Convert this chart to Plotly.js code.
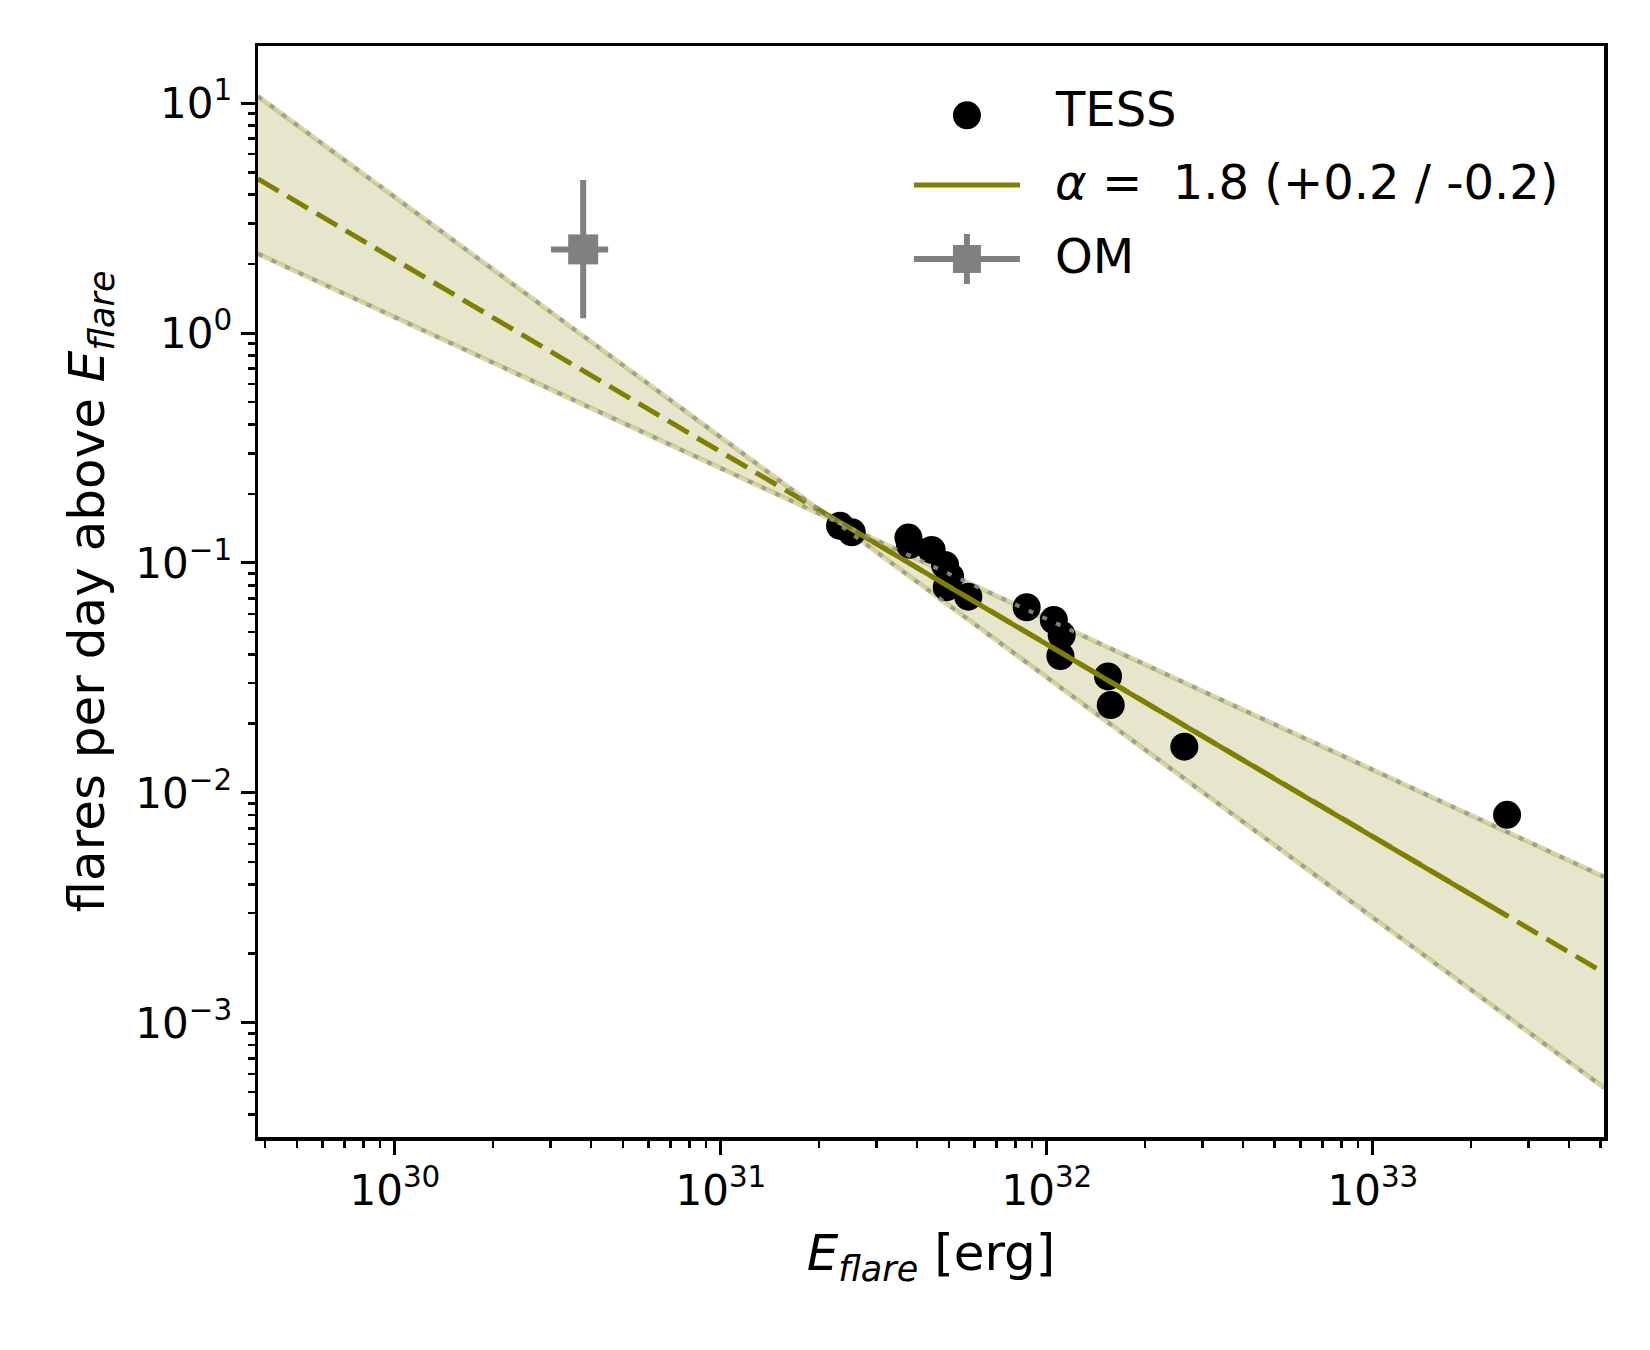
<!DOCTYPE html>
<html>
<head>
<meta charset="utf-8">
<script src="https://cdn.plot.ly/plotly-3.0.1.min.js"></script>
<style>
  html, body { margin: 0; padding: 0; background: #fff; }
  #chart { width: 1650px; height: 1350px; }
</style>
</head>
<body>
<div id="chart"></div>
<script>
// flare frequency distribution

const tessEnergy = [2.32e31, 2.52e31, 3.76e31, 3.80e31, 4.43e31, 4.87e31, 5.05e31, 4.93e31, 5.74e31,
                    8.67e31, 1.05e32, 1.11e32, 1.10e32, 1.54e32, 1.57e32, 2.64e32, 2.58e33];
const tessRate   = [0.145, 0.136, 0.129, 0.120, 0.114, 0.098, 0.0873, 0.0785, 0.0714,
                    0.0642, 0.0565, 0.0486, 0.0394, 0.0321, 0.0241, 0.0159, 0.00803];

const omEnergy = [3.78e30];
const omRate = [2.31];
const omErrEnergyPlus = [0.73e30];
const omErrEnergyMinus = [0.77e30];
const omErrRatePlus = [2.32];
const omErrRateMinus = [1.15];

// power law fit: full extrapolation and the range covered by the data
const fitEnergy = [3.80e29, 5.12e33];
const fitRate = [4.68, 1.65e-3];
const fitDataEnergy = [2.2e31, 2.58e33];
const fitDataRate = [0.157, 0.00292];

// uncertainty band on alpha
const bandEnergy = [3.80e29, 2.22e31, 5.12e33];
const bandUpper = [10.7, 0.153, 4.32e-3];
const bandLower = [2.21, 0.153, 5.22e-4];

const xTickVals = [1e30, 1e31, 1e32, 1e33];
const xTickText = ['10<sup>30</sup>', '10<sup>31</sup>', '10<sup>32</sup>', '10<sup>33</sup>'];
const yTickVals = [1e-3, 1e-2, 1e-1, 1e0, 1e1];
const yTickText = ['10<sup>\u22123</sup>', '10<sup>\u22122</sup>', '10<sup>\u22121</sup>', '10<sup>0</sup>', '10<sup>1</sup>'];

const legendLabels = ['TESS', '<i>\u03b1</i> =\u00a0 1.8 (+0.2 / -0.2)', 'OM'];

const OLIVE = '#808000';
const GREY = '#808080';
const BAND_FILL = 'rgba(128,128,0,0.2)';
const BAND_EDGE = 'rgba(180,180,90,0.5)';
const BAND_DOTS = 'rgba(150,150,140,0.85)';

// minor ticks at 2..9 of every decade
function minorTicks(lo, hi) {
    const out = [];
    for (let e = lo; e <= hi; e++) {
        for (let m = 2; m <= 9; m++) out.push(m * Math.pow(10, e));
    }
    return out;
}

const data = [
    {
        x: bandEnergy, y: bandLower,
        type: 'scatter', mode: 'lines',
        line: { color: BAND_EDGE, width: 5 },
        hoverinfo: 'skip'
    },
    {
        x: bandEnergy, y: bandUpper,
        type: 'scatter', mode: 'lines',
        fill: 'tonexty', fillcolor: BAND_FILL,
        line: { color: BAND_EDGE, width: 5 },
        hoverinfo: 'skip'
    },
    {
        x: tessEnergy, y: tessRate,
        type: 'scatter', mode: 'markers',
        name: legendLabels[0],
        marker: { color: 'black', size: 28, line: { width: 0 } }
    },
    {
        x: omEnergy, y: omRate,
        type: 'scatter', mode: 'markers',
        name: legendLabels[2],
        marker: { color: GREY, symbol: 'square', size: 30 },
        error_x: { type: 'data', symmetric: false, array: omErrEnergyPlus, arrayminus: omErrEnergyMinus,
                   color: GREY, thickness: 6, width: 0 },
        error_y: { type: 'data', symmetric: false, array: omErrRatePlus, arrayminus: omErrRateMinus,
                   color: GREY, thickness: 6, width: 0 }
    },
    {
        x: fitEnergy, y: fitRate,
        type: 'scatter', mode: 'lines',
        line: { color: OLIVE, width: 5, dash: '24px,10px' },
        hoverinfo: 'skip'
    },
    {
        x: fitDataEnergy, y: fitDataRate,
        type: 'scatter', mode: 'lines',
        name: legendLabels[1],
        line: { color: OLIVE, width: 5 }
    },
    {
        x: bandEnergy, y: bandLower,
        type: 'scatter', mode: 'lines',
        line: { color: BAND_DOTS, width: 4, dash: '5px,10px' },
        hoverinfo: 'skip'
    },
    {
        x: bandEnergy, y: bandUpper,
        type: 'scatter', mode: 'lines',
        line: { color: BAND_DOTS, width: 4, dash: '5px,10px' },
        hoverinfo: 'skip'
    }
];

const axisCommon = {
    type: 'log',
    showgrid: false,
    zeroline: false,
    showline: true,
    linecolor: 'black',
    linewidth: 3.5,
    mirror: true,
    ticks: 'outside',
    ticklen: 14,
    tickwidth: 3,
    tickcolor: 'black',
    tickmode: 'array',
    tickfont: { family: 'DejaVu Sans', size: 42, color: 'black' }
};

// hand-built legend, matplotlib style (long handles, wide row spacing)
const legX = 0.5267, legX0 = 0.4873, legX1 = 0.5661, legTextX = 0.591;
const legRows = [0.9365, 0.8726, 0.8048];

const legendShapes = [
    { type: 'circle', xref: 'paper', yref: 'paper', xsizemode: 'pixel', ysizemode: 'pixel',
      xanchor: legX, yanchor: legRows[0], x0: -14, x1: 14, y0: -14, y1: 14,
      fillcolor: 'black', line: { width: 0 } },
    { type: 'line', xref: 'paper', yref: 'paper', x0: legX0, x1: legX1, y0: legRows[1], y1: legRows[1],
      line: { color: OLIVE, width: 5 } },
    { type: 'line', xref: 'paper', yref: 'paper', x0: legX0, x1: legX1, y0: legRows[2], y1: legRows[2],
      line: { color: GREY, width: 6 } },
    { type: 'line', xref: 'paper', yref: 'paper', ysizemode: 'pixel', yanchor: legRows[2],
      x0: legX, x1: legX, y0: -25, y1: 25, line: { color: GREY, width: 6 } },
    { type: 'rect', xref: 'paper', yref: 'paper', xsizemode: 'pixel', ysizemode: 'pixel',
      xanchor: legX, yanchor: legRows[2], x0: -14, x1: 14, y0: -14, y1: 14,
      fillcolor: GREY, line: { width: 0 } }
];

const legendText = legendLabels.map((t, i) => ({
    text: t, xref: 'paper', yref: 'paper', x: legTextX, y: (i === 0 ? 0.9395 : legRows[i]) + 0.003,
    xanchor: 'left', yanchor: 'middle', showarrow: false,
    font: { family: 'DejaVu Sans', size: 48, color: 'black' }
}));

const layout = {
    width: 1650,
    height: 1350,
    margin: { l: 258, r: 46, t: 46, b: 213 },
    paper_bgcolor: 'white',
    plot_bgcolor: 'white',
    font: { family: 'DejaVu Sans', color: 'black' },
    showlegend: false,
    xaxis: Object.assign({}, axisCommon, {
        range: [29.580, 33.709],
        tickvals: xTickVals,
        ticktext: xTickText,
        minor: { tickmode: 'array', tickvals: minorTicks(29, 33), ticks: 'outside',
                 ticklen: 7, tickwidth: 2.5, tickcolor: 'black', showgrid: false },
        title: { text: '<i>E<sub>flare</sub></i> [erg]', font: { size: 50 }, standoff: 22 }
    }),
    yaxis: Object.assign({}, axisCommon, {
        range: [-3.496, 1.248],
        tickvals: yTickVals,
        ticktext: yTickText,
        minor: { tickmode: 'array', tickvals: minorTicks(-4, 0), ticks: 'outside',
                 ticklen: 7, tickwidth: 2.5, tickcolor: 'black', showgrid: false },
        title: { text: 'flares per day above <i>E<sub>flare</sub></i>', font: { size: 50 }, standoff: 16 }
    }),
    shapes: legendShapes,
    annotations: legendText
};

Plotly.newPlot('chart', data, layout, { staticPlot: true });
</script>
</body>
</html>
